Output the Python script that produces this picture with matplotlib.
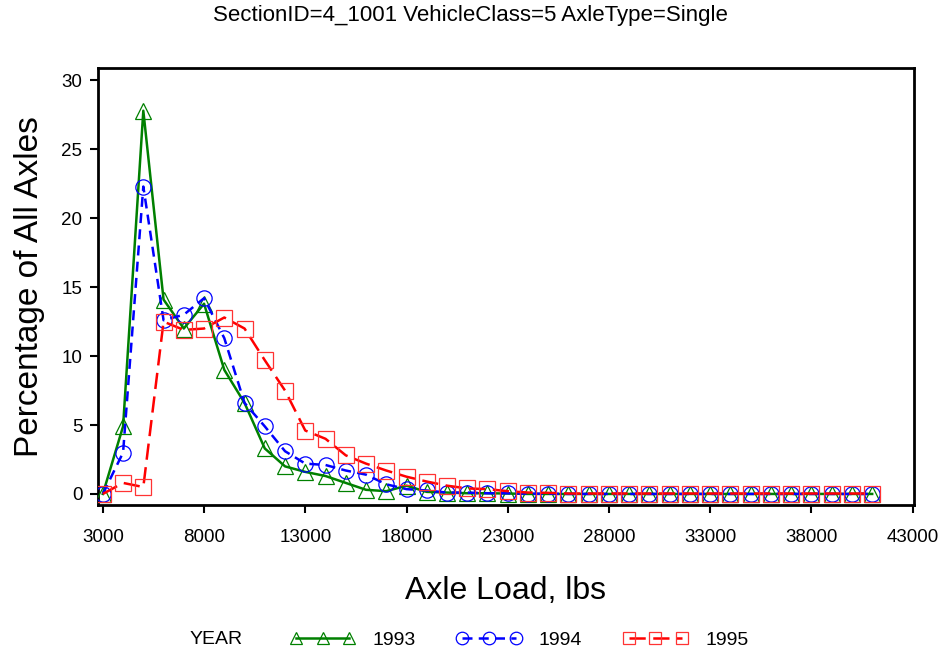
import matplotlib
matplotlib.use('Agg')
import matplotlib.pyplot as plt

# axle load bins (lbs)
axle_load = [3000, 4000, 5000, 6000, 7000, 8000, 9000, 10000, 11000, 12000,
             13000, 14000, 15000, 16000, 17000, 18000, 19000, 20000, 21000, 22000,
             23000, 24000, 25000, 26000, 27000, 28000, 29000, 30000, 31000, 32000,
             33000, 34000, 35000, 36000, 37000, 38000, 39000, 40000, 41000]

# percentage of all axles per year
pct_1993 = [0.0, 4.9, 27.8, 14.1, 12.0, 13.8, 9.0, 6.6, 3.3, 2.0,
            1.6, 1.3, 0.8, 0.3, 0.2, 0.6, 0.15, 0.1, 0.05, 0.05,
            0.03, 0.0, 0.0, 0.0, 0.0, 0.0, 0.0, 0.0, 0.0, 0.0,
            0.0, 0.0, 0.0, 0.0, 0.0, 0.0, 0.0, 0.0, 0.0]
pct_1994 = [0.0, 3.0, 22.3, 12.6, 13.0, 14.2, 11.3, 6.6, 4.9, 3.1,
            2.2, 2.1, 1.7, 1.4, 0.7, 0.35, 0.25, 0.1, 0.1, 0.05,
            0.05, 0.02, 0.02, 0.0, 0.0, 0.0, 0.0, 0.0, 0.0, 0.0,
            0.0, 0.0, 0.0, 0.0, 0.0, 0.0, 0.0, 0.0, 0.0]
pct_1995 = [0.0, 0.8, 0.5, 12.5, 11.9, 12.0, 12.8, 12.0, 9.7, 7.5,
            4.6, 4.0, 2.8, 2.2, 1.7, 1.25, 0.9, 0.6, 0.4, 0.35,
            0.2, 0.1, 0.08, 0.03, 0.03, 0.03, 0.03, 0.03, 0.03, 0.03,
            0.03, 0.03, 0.03, 0.03, 0.03, 0.03, 0.03, 0.03, 0.03]

x_ticks = [3000, 8000, 13000, 18000, 23000, 28000, 33000, 38000, 43000]
y_ticks = [0, 5, 10, 15, 20, 25, 30]

plt.rcParams['font.family'] = ['Liberation Sans', 'DejaVu Sans']

fig = plt.figure(figsize=(9.4, 6.57), dpi=100)
ax = fig.add_axes([0.104, 0.2314, 0.868, 0.6651])

ms = 11
h93, = ax.plot(axle_load, pct_1993, color='#008000', lw=1.8, ls='-',
               marker='^', ms=ms, mfc='none', mec='#008000', mew=0.9, zorder=3)
h94, = ax.plot(axle_load, pct_1994, color='#0000ff', lw=1.8, ls=(0, (4, 2.5)),
               marker='o', ms=ms, mfc='none', mec='#0000ff', mew=0.9, zorder=4)
h95, = ax.plot(axle_load, pct_1995, color='#ff0000', lw=1.8, ls=(0, (6.5, 3)),
               marker='s', ms=ms, mfc='none', mec='#ff3333', mew=0.9, zorder=5)

ax.set_xlim(2750, 43050)
ax.set_ylim(-0.8, 30.9)
ax.set_xticks(x_ticks)
ax.set_xticklabels([str(v) for v in x_ticks], fontsize=13.5)
ax.set_yticks(y_ticks)
ax.set_yticklabels([str(v) for v in y_ticks], fontsize=13.5)
ax.tick_params(direction='out', length=6, width=1.5, pad=5)
ax.tick_params(axis='x', pad=11)
for s in ax.spines.values():
    s.set_linewidth(2)

ax.set_xlabel('Axle Load, lbs', fontsize=23, labelpad=22)
ax.set_ylabel('Percentage of All Axles', fontsize=24, labelpad=12)
fig.suptitle('SectionID=4_1001 VehicleClass=5 AxleType=Single', fontsize=16, y=0.993)

# legend row at the bottom
fig.text(0.2295, 0.026, 'YEAR', fontsize=14, ha='center', va='center')
fig.legend([h93, h94, h95], ['1993', '1994', '1995'], ncol=3, frameon=False,
           loc='center left', bbox_to_anchor=(0.3085, 0.026), numpoints=3,
           borderaxespad=0, borderpad=0,
           handlelength=3.35, columnspacing=2.1, handletextpad=0.88,
           markerscale=0.82, prop={'size': 14})

fig.savefig('out.png', dpi=100)
